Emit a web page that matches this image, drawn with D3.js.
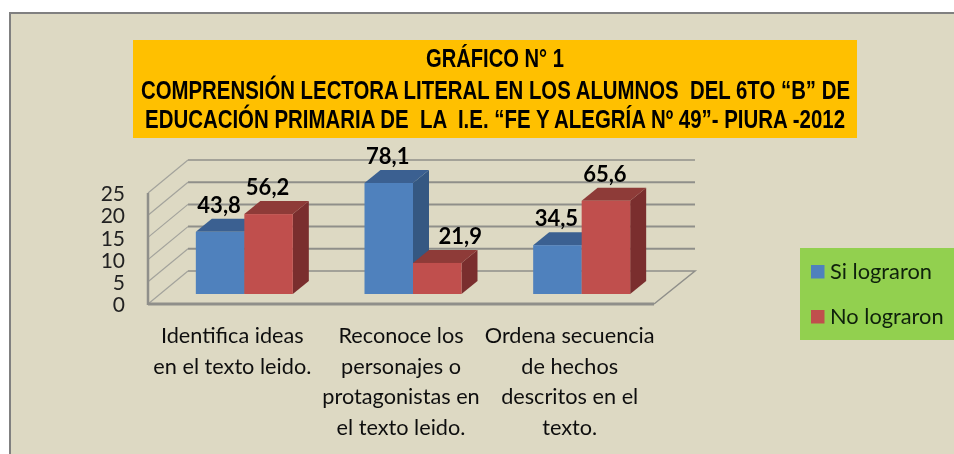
<!DOCTYPE html>
<html><head><meta charset="utf-8">
<script src="https://cdn.jsdelivr.net/npm/d3@7"></script>
<style>html,body{margin:0;padding:0;background:#fff}svg{display:block}</style>
</head><body><svg id="c" width="954" height="454">
<defs><filter id="soft" filterUnits="userSpaceOnUse" x="0" y="0" width="954" height="454"><feGaussianBlur stdDeviation="0.45"/></filter></defs>
</svg>
<script>
const categories = [
  ["Identifica ideas","en el texto leido."],
  ["Reconoce los","personajes o","protagonistas en","el texto leido."],
  ["Ordena secuencia","de hechos","descritos en el","texto."]
];
const seriesNames = ["Si lograron","No lograron"];
const siValues = [14,25,11];
const noValues = [18,7,21];
const siLabels = ["43,8","78,1","34,5"];
const noLabels = ["56,2","21,9","65,6"];
const yTicks = [0,5,10,15,20,25];
const titleLines = ["GRÁFICO N° 1","COMPRENSIÓN LECTORA LITERAL EN LOS ALUMNOS  DEL 6TO “B” DE","EDUCACIÓN PRIMARIA DE  LA  I.E. “FE Y ALEGRÍA Nº 49”- PIURA -2012"];

const svg = d3.select("#c").append("g").attr("filter","url(#soft)");
const bgc="#DDD9C3", grid="#8f8f8a", wall="#a3a39c";
const faces=[{f:"#4F81BD",t:"#3A6191",s:"#345882"},{f:"#C0504D",t:"#8E3A38",s:"#7A2F2E"}];

// frame
svg.append("rect").attr("x",10).attr("y",13).attr("width",960).attr("height",460)
  .attr("fill",bgc).attr("stroke","#808080").attr("stroke-width",2);

// title box
svg.append("rect").attr("x",133).attr("y",40).attr("width",724).attr("height",98).attr("fill","#FFC000");
const titleFit=[[426,138,67],[141,709,99],[145,700,128]];
titleLines.forEach((t,i)=>{
  svg.append("text").attr("x",titleFit[i][0]).attr("y",titleFit[i][2])
    .attr("textLength",titleFit[i][1]).attr("lengthAdjust","spacingAndGlyphs")
    .style("white-space","pre")
    .attr("font-family","Liberation Sans").attr("font-weight","bold").attr("font-size",25.5).attr("fill","#000").text(t);
});

// scales: front plane of the floor, and depth offsets
const y = d3.scaleLinear().domain([0,25]).range([304,193]);
const x = d3.scaleBand().domain(d3.range(3)).range([148,654]);
const wallD={x:40,y:-33}, barInset={x:12,y:-10}, barD={x:16,y:-13};
const sub = d3.scaleBand().domain([0,1]).range([0,97]);
const barX=(c,s)=>x(c)+x.bandwidth()/2+barInset.x-48.5+sub(s);

// gridlines and walls
yTicks.forEach(t=>{
  if(t>0) svg.append("line").attr("x1",188).attr("x2",695).attr("y1",y(t)+wallD.y).attr("y2",y(t)+wallD.y)
    .attr("stroke",grid).attr("stroke-width",t==25?1.5:2);
  svg.append("line").attr("x1",148).attr("x2",148+wallD.x).attr("y1",y(t)).attr("y2",y(t)+wallD.y)
    .attr("stroke",wall).attr("stroke-width",1.2);
});
svg.append("path").attr("d",`M654,${y(0)}L${654+wallD.x+1},${y(0)+wallD.y}L188,${y(0)+wallD.y}`)
  .attr("fill","none").attr("stroke",grid).attr("stroke-width",1.5);
svg.append("line").attr("x1",148).attr("x2",654).attr("y1",y(0)).attr("y2",y(0)).attr("stroke",grid).attr("stroke-width",3);
svg.append("line").attr("x1",148).attr("x2",148).attr("y1",y(25)).attr("y2",y(0)+1).attr("stroke",grid).attr("stroke-width",2.5);

// y axis labels
const ax = svg.append("g").attr("transform","translate(125,0)").call(d3.axisLeft(y).tickValues(yTicks).tickSize(0).tickPadding(0));
ax.select(".domain").remove();
ax.selectAll("text").attr("font-family","Lato").attr("font-size",21).attr("fill","#222").attr("dy","0.37em");

// bars
const barW=sub.bandwidth();
[siValues,noValues].forEach((vals,s)=>{
  const col=faces[s];
  const g=svg.append("g");
  vals.forEach((v,c)=>{
    const X=barX(c,s), T=y(v)+barInset.y, B=y(0)+barInset.y;
    g.append("path").attr("fill",col.s).attr("d",`M${X+barW},${T}l${barD.x},${barD.y}V${B+barD.y}l${-barD.x},${-barD.y}Z`);
    g.append("path").attr("fill",col.t).attr("d",`M${X},${T}l${barD.x},${barD.y}h${barW}l${-barD.x},${-barD.y}Z`);
    g.append("rect").attr("x",X).attr("y",T).attr("width",barW).attr("height",B-T).attr("fill",col.f);
  });
});

// data labels
[siLabels,noLabels].forEach((labs,s)=>{
  const vals=s?noValues:siValues;
  labs.forEach((l,c)=>{
    const shift=(s==1&&c==1)?24:0;
    svg.append("text").attr("x",barX(c,s)+barW/2-1+shift).attr("y",y(vals[c])+barInset.y-19)
      .attr("text-anchor","middle").attr("font-family","Lato").attr("font-weight","bold").attr("font-size",22).attr("fill","#000").text(l);
  });
});

// category labels
categories.forEach((lines,c)=>{
  lines.forEach((l,i)=>{
    svg.append("text").attr("x",x(c)+x.bandwidth()/2).attr("y",343+i*30.6)
      .attr("text-anchor","middle").attr("font-family","Lato").attr("font-size",21.7).attr("fill","#111").text(l);
  });
});

// legend
svg.append("rect").attr("x",800).attr("y",248).attr("width",154).attr("height",92).attr("fill","#92D050");
seriesNames.forEach((n,i)=>{
  const yy=265+i*45;
  svg.append("rect").attr("x",811).attr("y",yy).attr("width",13.5).attr("height",13.5).attr("fill",faces[i].f);
  svg.append("text").attr("x",830).attr("y",yy+13.5).attr("font-family","Lato").attr("font-size",21.8).attr("fill","#10200a").text(n);
});
</script></body></html>
